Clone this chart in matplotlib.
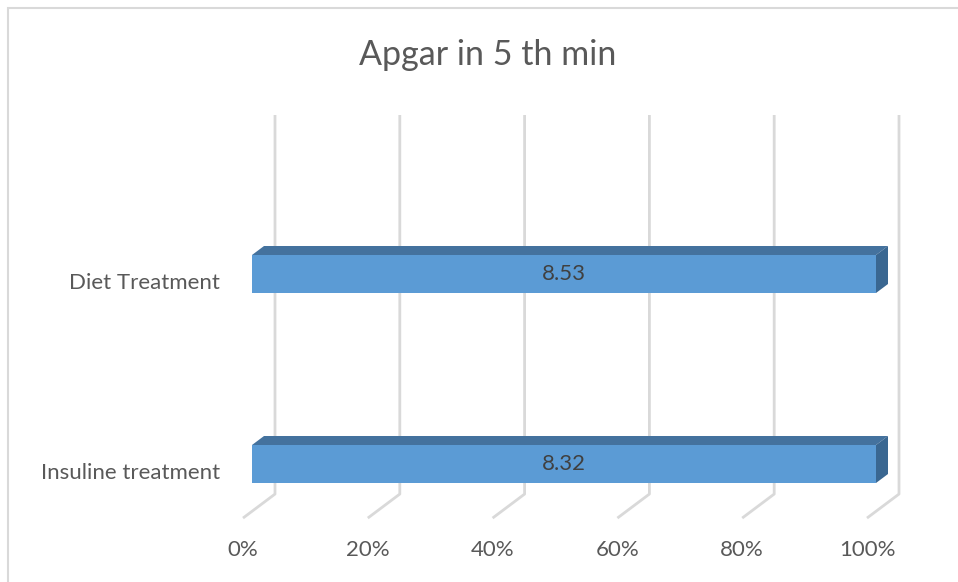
import matplotlib.pyplot as plt
from matplotlib.patches import Polygon, Rectangle

plt.rcParams['font.family'] = ['Lato', 'DejaVu Sans']

# data
categories = ['Diet Treatment', 'Insuline treatment']
shares = [100, 100]          # 100% stacked, single series
labels = ['8.53', '8.32']
ticks = [0, 20, 40, 60, 80, 100]
tick_labels = ['0%', '20%', '40%', '60%', '80%', '100%']

W, H = 958, 582
fig = plt.figure(figsize=(W / 100, H / 100), dpi=100)
ax = fig.add_axes([0, 0, 1, 1])

# pixel scale: 0..100% -> 252..876 px, category spacing 190 px
px_x = 6.24
px_y = 190.0
x0_px, y0_px = 252, 274
ax.set_xlim(-x0_px / px_x, (W - x0_px) / px_x)
ax.set_ylim((H - y0_px) / px_y, -y0_px / px_y)
ax.axis('off')

# depth offset per unit of bar depth (oblique projection)
dzx = 12 / px_x
dzy = -9 / px_y

def off(x, y, z):
    return (x + z * dzx, y + z * dzy)

grid_c = '#D9D9D9'
wall_z = 23 / 12
floor_z = -0.75
y_top, y_floor = -0.746, 1.249

# back wall gridlines + floor lines
for t in ticks:
    xa, ya = off(t, y_top, wall_z)
    xb, yb = off(t, y_floor, wall_z)
    xc, yc = off(t, y_floor, floor_z)
    ax.plot([xa, xb, xc], [ya, yb, yc], color=grid_c, lw=2, solid_capstyle='butt', zorder=1)

for t, lab in zip(ticks, tick_labels):
    xc, yc = off(t, y_floor, floor_z)
    ax.text(xc, yc + 32 / px_y, lab, ha='center', va='center', fontsize=16, color='#595959')

# bars
bh = 0.2
front_c, top_c, side_c = '#5B9BD5', '#44729E', '#3A6791'
for i, (cat, v, lab) in enumerate(zip(categories, shares, labels)):
    ax.barh(i, v, height=bh, left=0, color=front_c, zorder=3)
    yt, yb = i - bh / 2, i + bh / 2
    top = [(0, yt), (v, yt), off(v, yt, 1), off(0, yt, 1)]
    ax.add_patch(Polygon(top, closed=True, facecolor=top_c, edgecolor='none', zorder=3))
    side = [(v, yt), off(v, yt, 1), off(v, yb, 1), (v, yb)]
    ax.add_patch(Polygon(side, closed=True, facecolor=side_c, edgecolor='none', zorder=3))
    ax.text(v / 2, i, lab, ha='center', va='center', fontsize=16, color='#404040', zorder=4)
    ax.text(-32 / px_x, i + 9 / px_y, cat, ha='right', va='center', fontsize=16, color='#595959')

# title
fig.text(488 / W, 1 - 55 / H, 'Apgar in 5 th min', ha='center', va='center', fontsize=24.5, color='#595959')

# chart border
fig.add_artist(Rectangle((8 / W, -0.1), 1.2, 1.1 - 8 / H, transform=fig.transFigure,
                         fill=False, edgecolor='#D9D9D9', lw=1.5))

fig.savefig('out.png', dpi=100)
